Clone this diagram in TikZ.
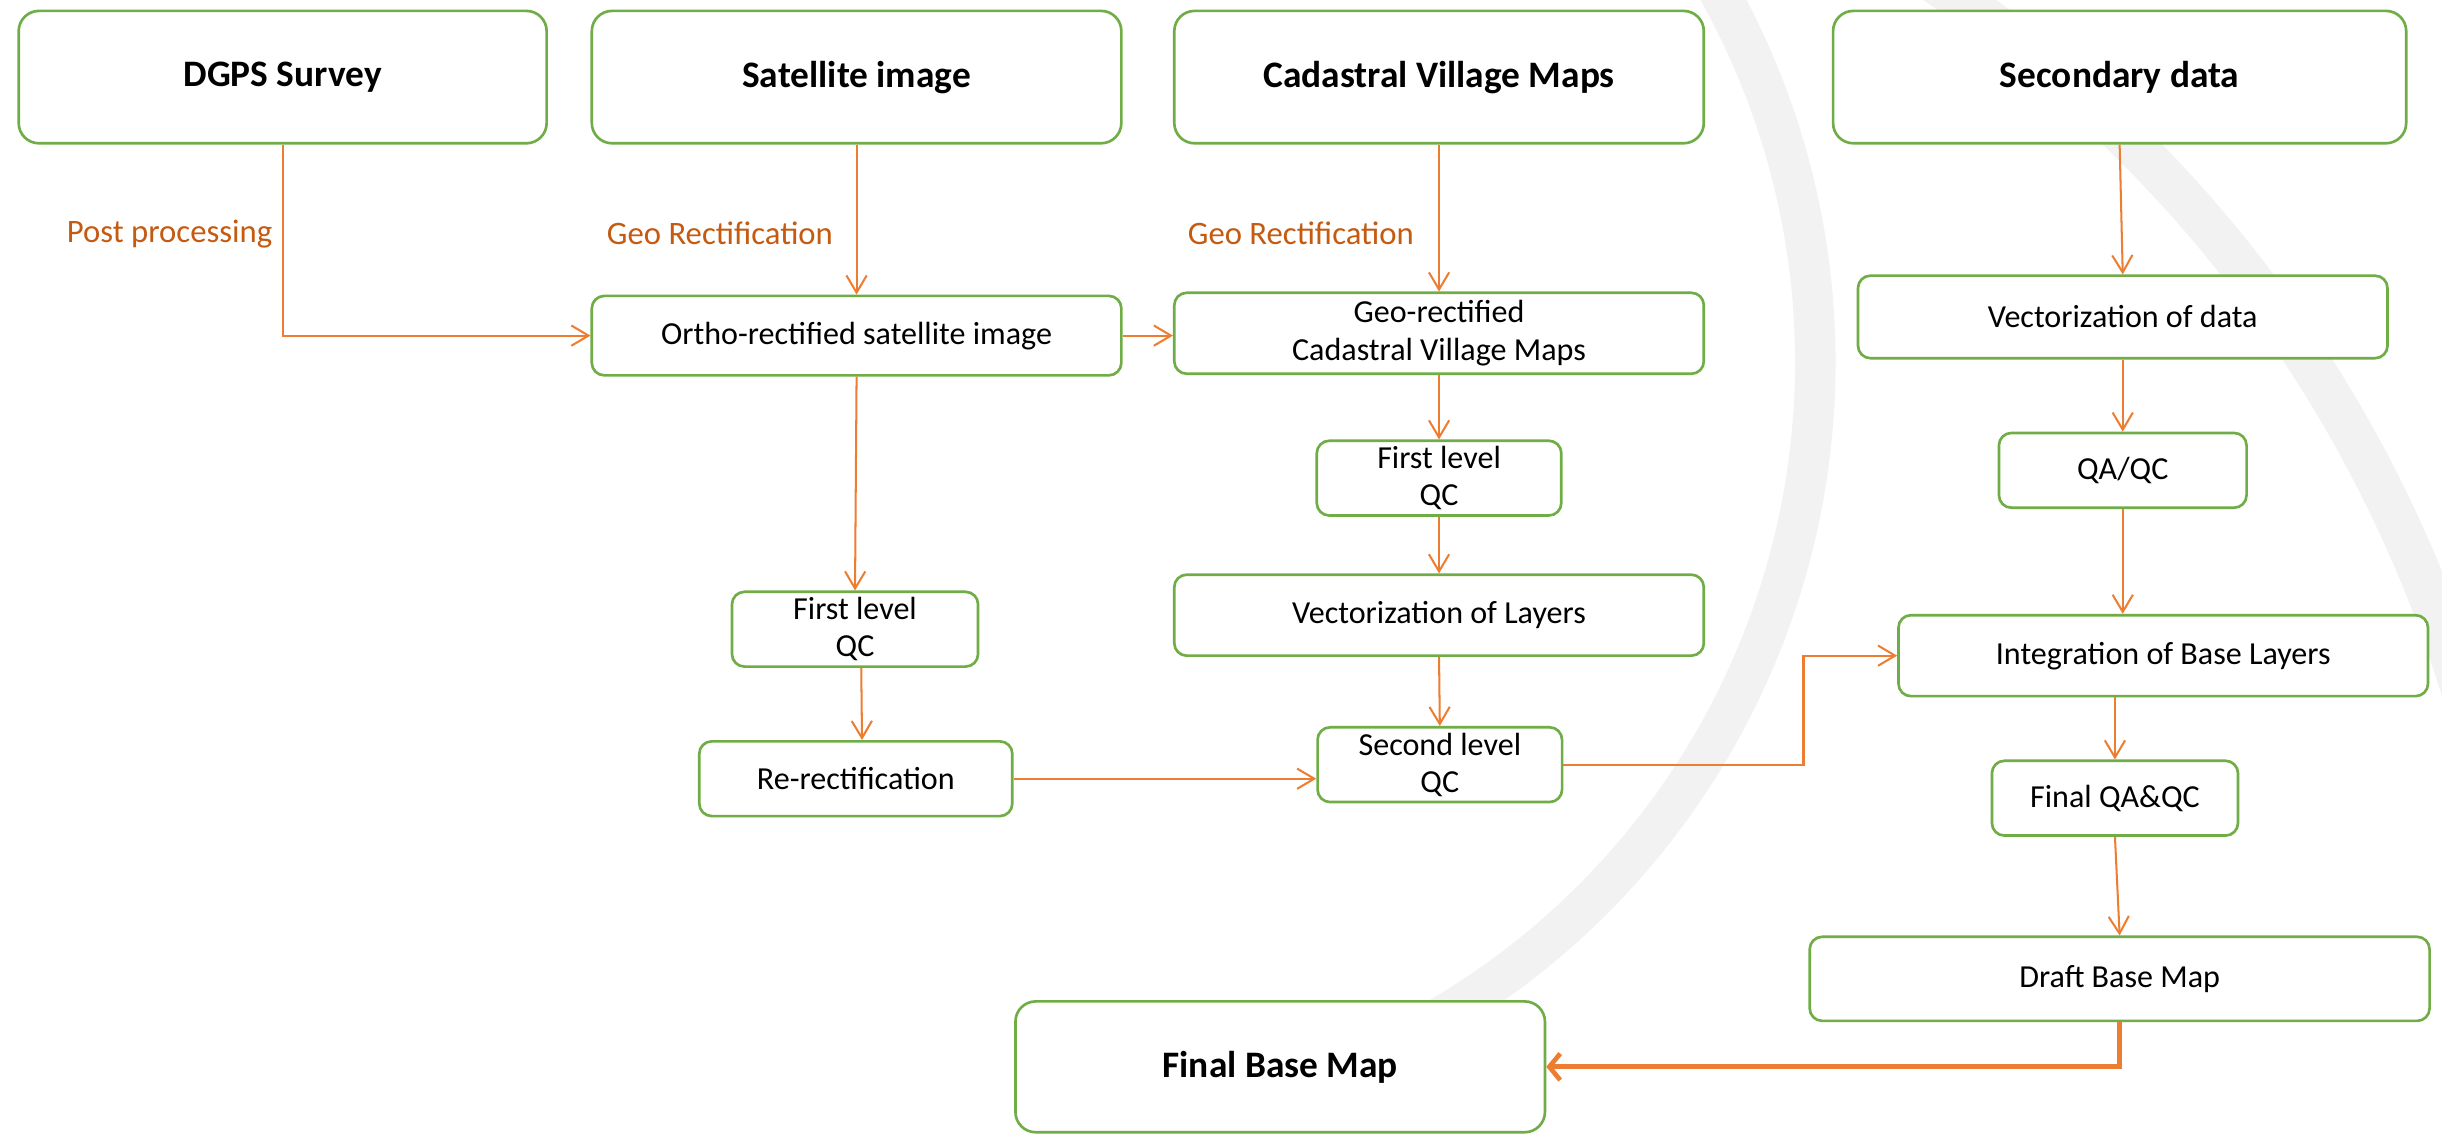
\documentclass[tikz,border=0pt]{standalone}
\usepackage{fontspec}
\setmainfont{Carlito}
\usetikzlibrary{arrows.meta,calc}
\definecolor{bgreen}{HTML}{70AD47}
\definecolor{aorange}{HTML}{ED7D31}
\definecolor{lorange}{HTML}{C55A11}
\definecolor{wmgrey}{HTML}{F2F2F2}
\begin{document}
\begin{tikzpicture}[x=1pt,y=-1pt,
  box/.style={draw=bgreen, line width=1.7pt, fill=white, rounded corners=8pt, align=center, inner sep=0pt, font=\fontsize{20.6}{24}\selectfont},
  bigbox/.style={box, rounded corners=13pt, font=\fontsize{24}{28}\selectfont\bfseries},
  conn/.style={draw=aorange, line width=1.3pt, -{Straight Barb[length=11pt,width=13pt,line width=1.3pt]}},
  thickconn/.style={draw=aorange, line width=3pt, -{Straight Barb[length=7pt,width=17pt,line width=3pt]}},
  lbl/.style={text=lorange, font=\fontsize{21}{24}\selectfont, anchor=east, inner sep=0pt},
]
\useasboundingbox (0,0) rectangle (1568,728);
\fill[white] (0,0) rectangle (1568,728);
% watermark arcs
\begin{scope}
\clip (0,0) rectangle (1568,728);
\draw[wmgrey, line width=26pt] ($(677.6,232.5)+(-35:488)$) arc[start angle=-35, end angle=80, radius=488];
\draw[wmgrey, line width=27pt] ($(773.3,691.7)+(-60:845)$) arc[start angle=-60, end angle=-12, radius=845];
\end{scope}
% top row
\node[bigbox, minimum width=339pt, minimum height=85pt] (dgps) at (181.5,49.5) {DGPS Survey};
\node[bigbox, minimum width=340pt, minimum height=85pt] (sat) at (550,49.5) {Satellite image};
\node[bigbox, minimum width=340pt, minimum height=85pt] (cad) at (924,49.5) {Cadastral Village Maps};
\node[bigbox, minimum width=368pt, minimum height=85pt] (sec) at (1361,49.5) {Secondary data};
% process boxes
\node[box, minimum width=340pt, minimum height=51pt] (ortho) at (550,215.5) {Ortho-rectified satellite image};
\node[box, minimum width=340pt, minimum height=52pt] (geo) at (924,214) {Geo-rectified\\Cadastral Village Maps};
\node[box, minimum width=340pt, minimum height=53pt] (vdata) at (1363,203.5) {Vectorization of data};
\node[box, minimum width=157pt, minimum height=48pt] (fqc2) at (924,307) {First level\\QC};
\node[box, minimum width=159pt, minimum height=48pt] (qaqc) at (1363,302) {QA/QC};
\node[box, minimum width=340pt, minimum height=52pt] (vlay) at (924,395) {Vectorization of Layers};
\node[box, minimum width=340pt, minimum height=52pt] (integ) at (1389,421) {Integration of Base Layers};
\node[box, minimum width=158pt, minimum height=48pt] (fqc1) at (549,404) {First level\\QC};
\node[box, minimum width=201pt, minimum height=48pt] (rerect) at (549.5,500) {Re-rectification};
\node[box, minimum width=157pt, minimum height=48pt] (sqc) at (924.5,491) {Second level\\QC};
\node[box, minimum width=158pt, minimum height=48pt] (fqaqc) at (1358,512.5) {Final QA\&QC};
\node[box, minimum width=398pt, minimum height=54pt] (draft) at (1361,628.5) {Draft Base Map};
\node[bigbox, minimum width=340pt, minimum height=84pt] (final) at (822,685) {Final Base Map};
% labels
\node[lbl] (pp) at (175,150) {Post processing};
\node[lbl] (gr1) at (535,150) {Geo Rectification};
\node[lbl] (gr2) at (908,150) {Geo Rectification};
% connectors
\coordinate (bend) at (1158,0);
\draw[conn] (dgps.south) |- (ortho.west);
\draw[conn] (sat.south) -- (ortho.north);
\draw[conn] (cad.south) -- (geo.north);
\draw[conn] (ortho.east) -- (ortho.east -| geo.west);
\draw[conn] (ortho.south) -- (fqc1.north);
\draw[conn] ($(fqc1.south)+(4,0)$) -- ($(rerect.north)+(4,0)$);
\draw[conn] (rerect.east) -- (rerect.east -| sqc.west);
\draw[conn] (geo.south) -- (fqc2.north);
\draw[conn] (fqc2.south) -- (vlay.north);
\draw[conn] (vlay.south) -- (sqc.north);
\draw[conn] (sqc.east) -- (sqc.east -| bend) |- (integ.west);
\draw[conn] (sec.south) -- (vdata.north);
\draw[conn] (vdata.south) -- (qaqc.north);
\draw[conn] (qaqc.south) -- (qaqc.south |- integ.north);
\draw[conn] (integ.south -| fqaqc.north) -- (fqaqc.north);
\draw[conn] (fqaqc.south) -- (draft.north);
\draw[thickconn] (draft.south) |- (final.east);
\end{tikzpicture}
\end{document}
